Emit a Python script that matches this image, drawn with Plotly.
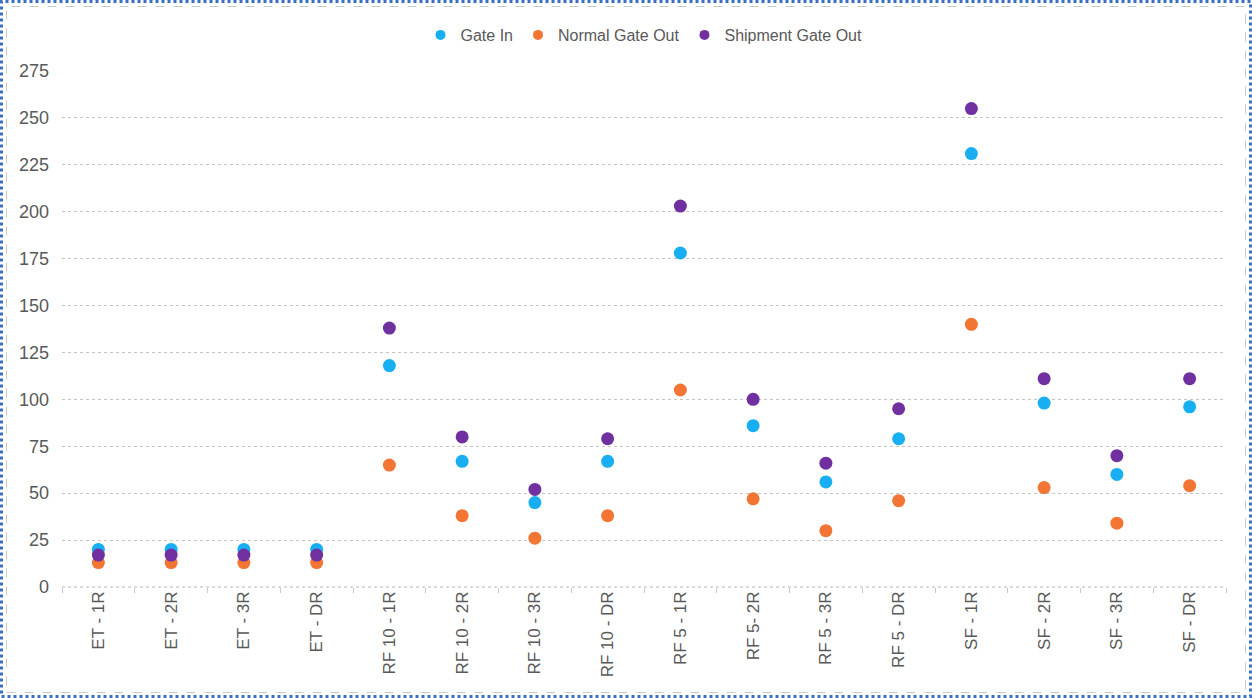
import plotly.graph_objects as go

categories = ["ET - 1R", "ET - 2R", "ET - 3R", "ET - DR",
              "RF 10 - 1R", "RF 10 - 2R", "RF 10 - 3R", "RF 10 - DR",
              "RF 5 - 1R", "RF 5- 2R", "RF 5 - 3R", "RF 5 - DR",
              "SF - 1R", "SF - 2R", "SF - 3R", "SF - DR"]
gate_in = [20, 20, 20, 20, 118, 67, 45, 67, 178, 86, 56, 79, 231, 98, 60, 96]
normal_gate_out = [13, 13, 13, 13, 65, 38, 26, 38, 105, 47, 30, 46, 140, 53, 34, 54]
shipment_gate_out = [17, 17, 17, 17, 138, 80, 52, 79, 203, 100, 66, 95, 255, 111, 70, 111]
y_ticks = [0, 25, 50, 75, 100, 125, 150, 175, 200, 225, 250, 275]

series = [("Gate In", gate_in, "#18AFF2"),
          ("Normal Gate Out", normal_gate_out, "#F27533"),
          ("Shipment Gate Out", shipment_gate_out, "#7030A0")]

W, H = 1252, 698
ml, mr, mt, mb = 62, W - 1226, 71, H - 587

fig = go.Figure()
for name, vals, col in series:
    fig.add_trace(go.Scatter(x=categories, y=vals, mode="markers", name=name,
                             legendgroup=name, showlegend=False,
                             marker=dict(color=col, size=13)))
for name, vals, col in series:
    fig.add_trace(go.Scatter(x=[None], y=[None], mode="markers", name=name,
                             legendgroup=name, showlegend=True,
                             marker=dict(color=col, size=10)))

pw, ph = W - ml - mr, H - mt - mb
def px(x):
    return (x - ml) / pw
def py(y):
    return (H - mb - y) / ph

shapes = [
    dict(type="rect", xref="paper", yref="paper",
         x0=px(1.5), x1=px(W - 1.5), y0=py(H - 1.5), y1=py(1.5),
         line=dict(color="#3A6FC4", width=3, dash="dot"), layer="below"),
    dict(type="rect", xref="paper", yref="paper",
         x0=px(6.5), x1=px(W - 6.5), y0=py(H - 5.5), y1=py(6.5),
         line=dict(color="#C8C8C8", width=1, dash="dash"), layer="below"),
    # category axis baseline
    dict(type="line", xref="paper", yref="paper", x0=0, x1=1, y0=0, y1=0,
         line=dict(color="#B8B8B8", width=1, dash="dot"), layer="below"),
]

fig.update_layout(
    width=W, height=H,
    margin=dict(l=ml, r=mr, t=mt, b=mb),
    paper_bgcolor="white", plot_bgcolor="white",
    font=dict(family="Liberation Sans, Arial, sans-serif", color="#595959", size=17),
    shapes=shapes,
    legend=dict(orientation="h", x=0.5, xanchor="center", y=1 + (mt - 35) / ph,
                yanchor="middle", font=dict(size=16, color="#595959"),
                itemwidth=30, tracegroupgap=0),
    xaxis=dict(type="category", showgrid=False, showline=False, zeroline=False,
               ticks="outside", tickson="boundaries", ticklen=5,
               tickcolor="#C8C8C8", tickangle=-90,
               tickfont=dict(size=17, color="#595959"),
               range=[-0.5, len(categories) - 0.5]),
    yaxis=dict(range=[0, 275], tickvals=y_ticks, showgrid=True,
               gridcolor="#C4C4C4", griddash="dot", gridwidth=1,
               zeroline=False, showline=False, ticks="",
               tickfont=dict(size=18, color="#595959"), ticklabelstandoff=12),
)

fig.write_html("out.html", config={"displayModeBar": False},
               post_script="document.body.style.margin='0';")
